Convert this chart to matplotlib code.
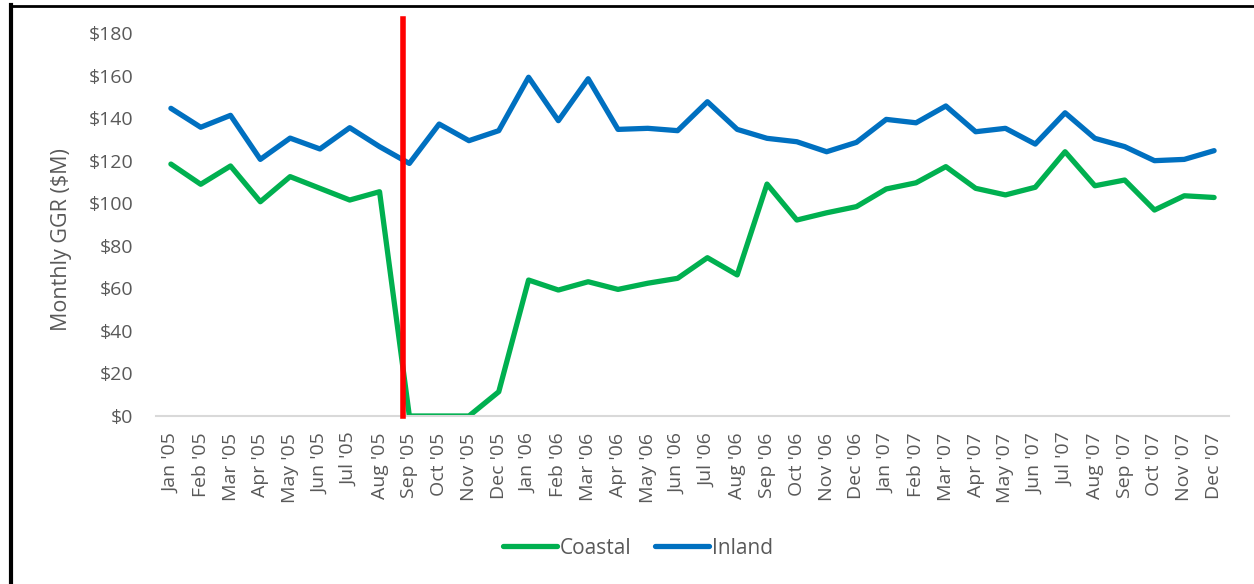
import matplotlib.pyplot as plt
from matplotlib.lines import Line2D

months = ["Jan", "Feb", "Mar", "Apr", "May", "Jun",
          "Jul", "Aug", "Sep", "Oct", "Nov", "Dec"]
years = ["05", "06", "07"]
labels = [m + " '" + y for y in years for m in months]

coastal = [118.4, 108.9, 117.5, 100.7, 112.5, 107.0, 101.5, 105.4, 0, 0, 0, 11.4,
           63.9, 59.2, 63.1, 59.5, 62.4, 64.7, 74.4, 66.3, 109.0, 92.1, 95.5, 98.4,
           106.7, 109.6, 117.2, 107.0, 103.9, 107.5, 124.2, 108.2, 110.9, 96.8, 103.5, 102.7]
inland = [144.6, 135.7, 141.3, 120.6, 130.6, 125.5, 135.5, 126.6, 118.7, 137.2, 129.4, 134.1,
          159.2, 138.8, 158.5, 134.7, 135.2, 134.1, 147.7, 134.7, 130.5, 128.9, 124.2, 128.6,
          139.4, 137.8, 145.7, 133.6, 135.2, 127.8, 142.5, 130.5, 126.6, 120.0, 120.6, 124.7]

# Katrina marker (between Aug '05 and Sep '05)
event_x = 7.8

GRAY = "#595959"
plt.rcParams['font.family'] = ['Open Sans', 'DejaVu Sans']

fig = plt.figure(figsize=(12.54, 5.84), dpi=100)
ax = fig.add_axes([156/1254, 1 - 416/584, (1229 - 156)/1254, (416 - 33)/584])

x = list(range(len(labels)))
ax.plot(x, coastal, color="#00B050", lw=3.8, label="Coastal", solid_capstyle="round")
ax.plot(x, inland, color="#0070C0", lw=3.8, label="Inland", solid_capstyle="round")
ax.plot([event_x, event_x], [0, 186.5], color="#FF0000", lw=4, clip_on=False, zorder=5)

ax.set_xlim(-0.5, len(labels) - 0.5)
ax.set_ylim(0, 180)
ax.set_yticks(range(0, 181, 20))
ax.set_yticklabels(["$" + str(v) for v in range(0, 181, 20)])
ax.set_xticks(x)
ax.set_xticklabels(labels, rotation=90)
ax.tick_params(axis="both", length=0, colors=GRAY, labelsize=14)
ax.tick_params(axis="y", pad=16.5)
ax.tick_params(axis="x", pad=12)
for s in ["top", "right", "left"]:
    ax.spines[s].set_visible(False)
ax.spines["bottom"].set_color("#D9D9D9")
ax.spines["bottom"].set_linewidth(1.5)

fig.text(62/1254, 1 - 240/584, "Monthly GGR ($M)", rotation=90, color=GRAY,
         fontsize=15.5, ha="center", va="center")

leg = fig.legend(loc="center", bbox_to_anchor=(638/1254, 1 - 548/584), ncol=2,
                 frameon=False, fontsize=15, handlelength=2.6, columnspacing=1.1,
                 handletextpad=0.15)
for t in leg.get_texts():
    t.set_color(GRAY)

# outer frame (left and top edges visible)
fig.add_artist(Line2D([11/1254, 11/1254], [0, 1 - 5/584], color="black", lw=3,
                      transform=fig.transFigure))
fig.add_artist(Line2D([9.5/1254, 1], [1 - 6/584, 1 - 6/584], color="black", lw=2,
                      transform=fig.transFigure))

fig.savefig("out.png", dpi=100)
